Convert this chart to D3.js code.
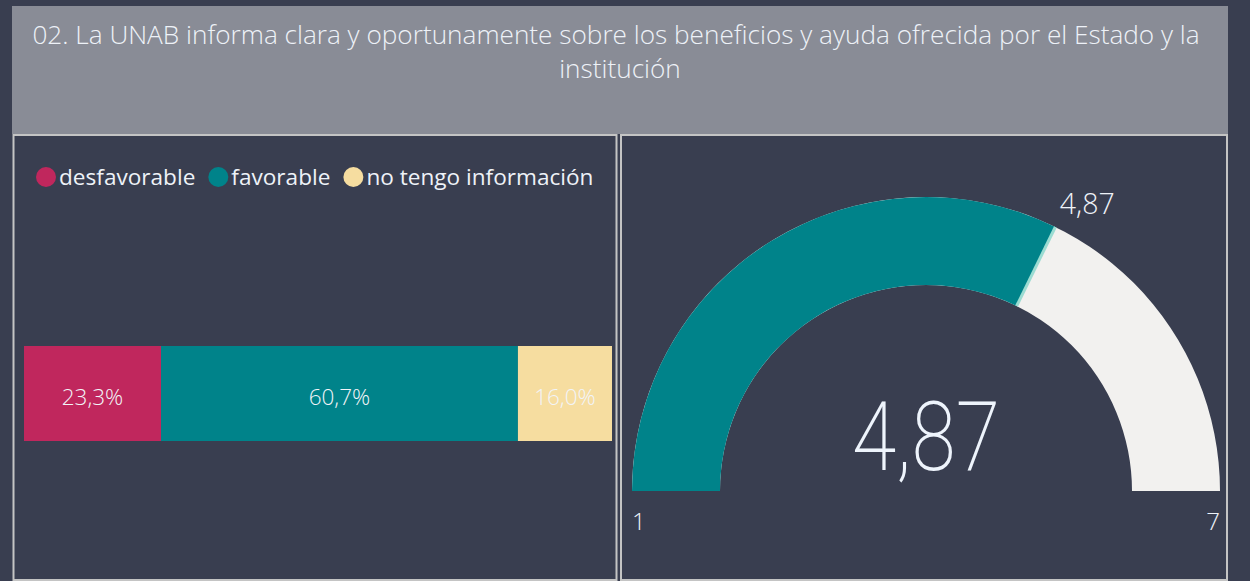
<!DOCTYPE html>
<html><head><meta charset="utf-8">
<script src="https://cdn.jsdelivr.net/npm/d3@7"></script>
<style>
html,body{margin:0;padding:0;background:#393E50;}
svg{display:block;}
text{font-family:"Open Sans","Noto Sans",sans-serif;}
</style></head>
<body>
<svg id="c" width="1250" height="581"></svg>
<script>
const titleLines = ["02. La UNAB informa clara y oportunamente sobre los beneficios y ayuda ofrecida por el Estado y la", "institución"];
const categories = ["desfavorable", "favorable", "no tengo información"];
const shares = [23.3, 60.7, 16.0];
const colors = ["#C0275D", "#00838A", "#F6DDA0"];
const gaugeMin = 1, gaugeMax = 7, gaugeValue = 4.87;
const fmt = v => v.toFixed(2).replace(".", ",");
const fmtPct = v => v.toFixed(1).replace(".", ",") + "%";

const svg = d3.select("#c");
const W = 1250, H = 581;
svg.append("rect").attr("width", W).attr("height", H).attr("fill", "#393E50");

// Title box
svg.append("rect").attr("x", 12).attr("y", 6).attr("width", 1216).attr("height", 128).attr("fill", "#898C96");
const targetW = 1168;
const t1 = svg.append("text").attr("x", 616).attr("y", 44).attr("text-anchor", "middle")
  .attr("fill", "#EEF2F8").attr("font-size", 24).attr("font-weight", 300).text(titleLines[0]);
const fs = 24 * targetW / t1.node().getComputedTextLength();
t1.attr("font-size", fs);
svg.append("text").attr("x", 620).attr("y", 78).attr("text-anchor", "middle")
  .attr("fill", "#EEF2F8").attr("font-size", fs).attr("font-weight", 300).text(titleLines[1]);

// Panels
svg.append("rect").attr("x", 13.5).attr("y", 135).attr("width", 603).attr("height", 445)
  .attr("fill", "none").attr("stroke", "#C4C4C4").attr("stroke-width", 2);
svg.append("rect").attr("x", 621).attr("y", 135).attr("width", 606).attr("height", 445)
  .attr("fill", "none").attr("stroke", "#C4C4C4").attr("stroke-width", 2);

// Legend
let lx = 36;
categories.forEach((c, i) => {
  svg.append("circle").attr("cx", lx + 10).attr("cy", 177).attr("r", 10).attr("fill", colors[i]);
  const t = svg.append("text").attr("x", lx + 23).attr("y", 185).attr("fill", "#EEF2F8")
    .attr("font-size", 22.6).text(c);
  lx = lx + 23 + t.node().getComputedTextLength() + 13;
});

// Stacked bar
const x = d3.scaleLinear().domain([0, 100]).range([24, 612]);
let acc = 0;
const segs = shares.map((v, i) => { const s = {v, i, x0: acc, x1: acc + v}; acc += v; return s; });
svg.selectAll("rect.seg").data(segs).join("rect").attr("class", "seg")
  .attr("x", d => x(d.x0)).attr("y", 346).attr("width", d => x(d.x1) - x(d.x0)).attr("height", 95)
  .attr("fill", d => colors[d.i]);
svg.selectAll("text.seg").data(segs).join("text").attr("class", "seg")
  .attr("x", d => (x(d.x0) + x(d.x1)) / 2).attr("y", 405).attr("text-anchor", "middle")
  .attr("fill", "#F2F4F8").attr("font-size", 22.5).attr("font-weight", 300).text(d => fmtPct(d.v));

// Gauge
const cx = 926, cy = 491, rO = 294, rI = 206;
const ang = d3.scaleLinear().domain([gaugeMin, gaugeMax]).range([-Math.PI / 2, Math.PI / 2]);
const arc = d3.arc().innerRadius(rI).outerRadius(rO);
const g = svg.append("g").attr("transform", `translate(${cx},${cy})`);
g.append("path").attr("d", arc({startAngle: ang(gaugeMin), endAngle: ang(gaugeMax)})).attr("fill", "#F2F1EF");
g.append("path").attr("d", arc({startAngle: ang(gaugeMin), endAngle: ang(gaugeValue)})).attr("fill", "#00838A");
const a = ang(gaugeValue);
g.append("line")
  .attr("x1", rI * Math.sin(a)).attr("y1", -rI * Math.cos(a))
  .attr("x2", rO * Math.sin(a)).attr("y2", -rO * Math.cos(a))
  .attr("stroke", "#9BDCD2").attr("stroke-width", 3);
g.append("text").attr("x", (rO + 10) * Math.sin(a)).attr("y", -(rO + 14) * Math.cos(a))
  .attr("fill", "#EEF2F8").attr("font-size", 28.5).attr("font-weight", 300).text(fmt(gaugeValue));
g.append("text").attr("x", 0).attr("y", -21).attr("text-anchor", "middle")
  .style("font-family", "Roboto, 'Open Sans', sans-serif")
  .attr("fill", "#EEF4FC").attr("font-size", 96).attr("font-weight", 200)
  .attr("textLength", 148).attr("lengthAdjust", "spacingAndGlyphs").text(fmt(gaugeValue));
svg.append("text").attr("x", cx - rO).attr("y", 530).attr("fill", "#EEF2F8").attr("font-size", 24).attr("font-weight", 300).text(gaugeMin);
svg.append("text").attr("x", cx + rO).attr("y", 530).attr("text-anchor", "end").attr("fill", "#EEF2F8").attr("font-size", 24).attr("font-weight", 300).text(gaugeMax);
</script>
</body></html>
